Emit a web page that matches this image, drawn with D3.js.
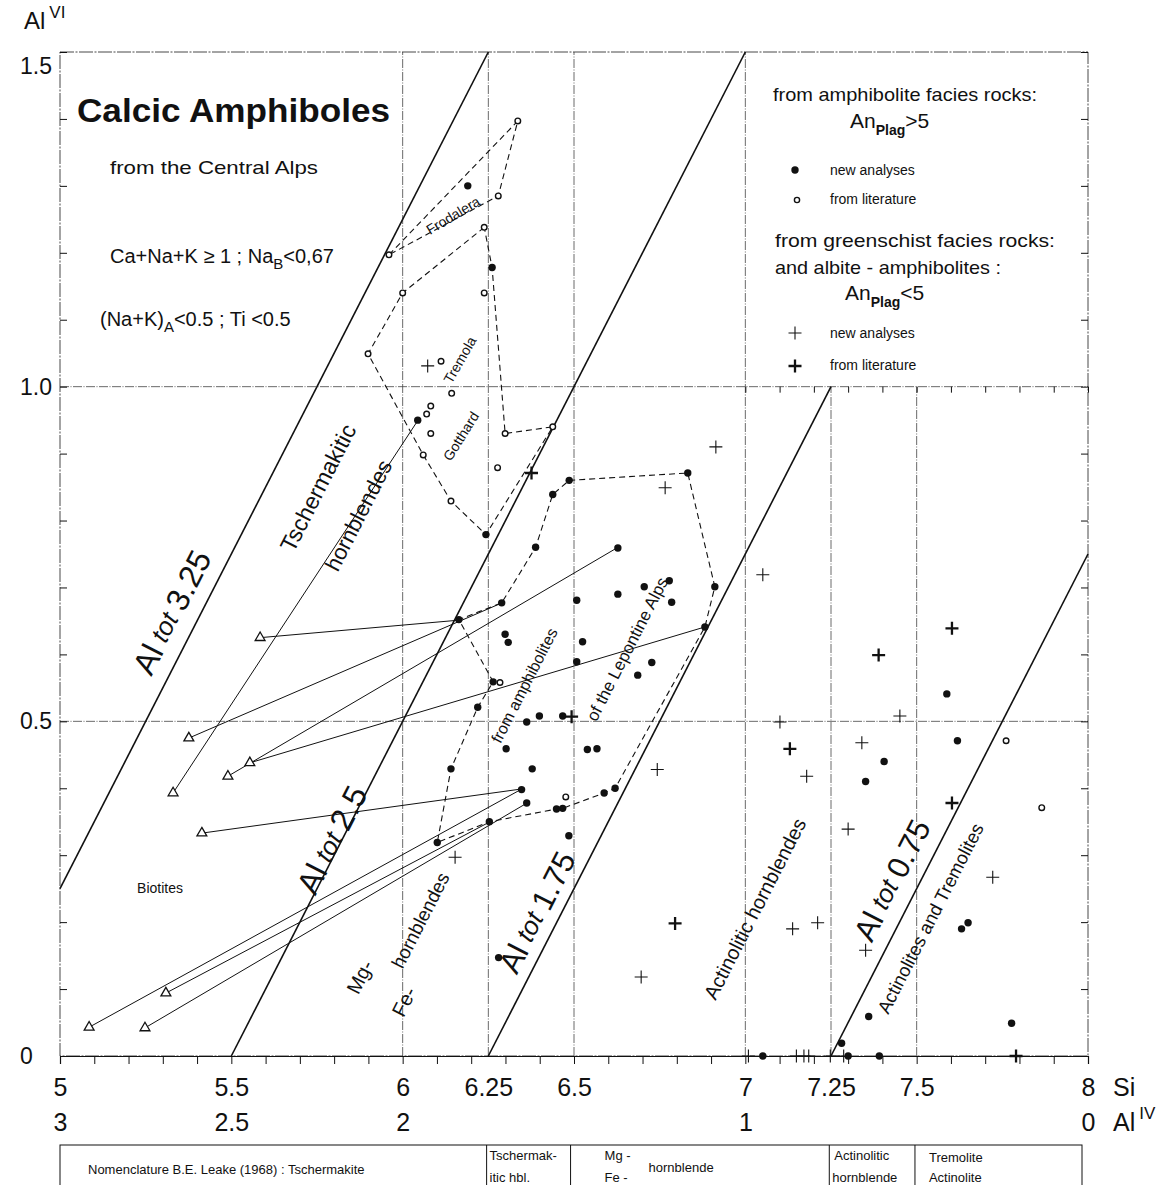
<!DOCTYPE html>
<html>
<head>
<meta charset="utf-8">
<script src="https://cdn.jsdelivr.net/npm/d3@7"></script>
<style>
  body { margin: 0; background: #fff; }
  svg { display: block; }
  text { font-family: "Liberation Sans", Arial, sans-serif; fill: #111; }
</style>
</head>
<body>
<svg id="chart" width="1176" height="1185"></svg>
<script>
// amphibolite facies, new analyses (filled dots) [Si, AlVI]
const newAmphibolite = [
  [6.190, 1.300], [6.261, 1.178], [6.044, 0.950], [6.243, 0.779], [6.486, 0.860],
  [6.832, 0.871], [6.911, 0.701], [6.882, 0.641], [6.620, 0.400], [6.588, 0.393],
  [6.467, 0.370], [6.449, 0.369], [6.253, 0.350], [6.101, 0.319], [6.141, 0.429],
  [6.219, 0.521], [6.264, 0.559], [6.164, 0.652], [6.289, 0.677], [6.388, 0.760],
  [6.438, 0.839], [6.628, 0.759], [6.508, 0.681], [6.628, 0.690], [6.705, 0.701],
  [6.778, 0.710], [6.785, 0.678], [6.299, 0.630], [6.308, 0.618], [6.525, 0.619],
  [6.508, 0.589], [6.727, 0.588], [6.686, 0.569], [6.362, 0.499], [6.399, 0.508],
  [6.467, 0.508], [6.302, 0.459], [6.539, 0.458], [6.567, 0.459], [6.378, 0.429],
  [6.347, 0.398], [6.362, 0.378], [6.485, 0.329], [6.280, 0.147], [7.051, 0.000],
  [7.588, 0.541], [7.619, 0.471], [7.405, 0.440], [7.351, 0.410], [7.631, 0.190],
  [7.650, 0.199], [7.360, 0.059], [7.777, 0.049], [7.281, 0.019], [7.300, 0.000],
  [7.391, 0.000]
]

// amphibolite facies, from literature (open circles)
const litAmphibolite = [
  [6.336, 1.397], [6.279, 1.285], [5.960, 1.197], [6.238, 1.238], [6.000, 1.140],
  [6.238, 1.140], [5.899, 1.049], [6.112, 1.038], [6.143, 0.990], [6.082, 0.971],
  [6.070, 0.959], [6.082, 0.930], [6.299, 0.930], [6.438, 0.940], [6.060, 0.898],
  [6.277, 0.879], [6.141, 0.829], [6.284, 0.558], [6.476, 0.387], [7.761, 0.471],
  [7.865, 0.371]
]

// greenschist facies / albite-amphibolites, new analyses (thin crosses)
const newGreenschist = [
  [6.073, 1.031], [6.766, 0.849], [6.914, 0.910], [6.743, 0.428], [6.153, 0.297],
  [6.696, 0.118], [7.051, 0.719], [7.451, 0.508], [7.101, 0.499], [7.340, 0.468],
  [7.179, 0.418], [7.300, 0.339], [7.722, 0.267], [7.138, 0.190], [7.211, 0.199],
  [7.351, 0.158], [7.009, 0.000], [7.149, 0.000], [7.171, 0.000], [7.185, 0.000],
  [7.248, 0.000], [7.287, 0.000]
]

// greenschist facies, from literature (bold crosses)
const litGreenschist = [
  [6.376, 0.871], [6.493, 0.507], [6.795, 0.198], [7.603, 0.639], [7.389, 0.599],
  [7.130, 0.459], [7.603, 0.378], [7.790, 0.000]
]

// coexisting biotites (triangles) and their amphibole partners
const biotites = [
  [5.584, 0.625], [5.376, 0.475], [5.490, 0.418], [5.554, 0.438], [5.330, 0.393],
  [5.414, 0.333], [5.085, 0.043], [5.309, 0.094], [5.248, 0.042]
]
const biotitePartners = [
  [6.161, 0.651], [6.290, 0.677], [6.625, 0.759], [6.882, 0.641], [6.045, 0.950],
  [6.348, 0.399], [6.348, 0.399], [6.255, 0.350], [6.363, 0.378]
]

// dashed outlines of the regional groups
const frodalera = [[5.960, 1.197], [6.336, 1.397], [6.279, 1.285], [5.960, 1.197]]
const gotthard = [
  [6.238, 1.238], [6.000, 1.140], [5.899, 1.049], [6.060, 0.898], [6.141, 0.829],
  [6.243, 0.779], [6.438, 0.940], [6.299, 0.930], [6.261, 1.178], [6.238, 1.238]
]
const lepontine = [
  [6.486, 0.860], [6.832, 0.871], [6.911, 0.701], [6.882, 0.641], [6.620, 0.400],
  [6.588, 0.393], [6.467, 0.370], [6.449, 0.369], [6.253, 0.350], [6.101, 0.319],
  [6.141, 0.429], [6.219, 0.521], [6.264, 0.559], [6.164, 0.652], [6.289, 0.677],
  [6.388, 0.760], [6.438, 0.839], [6.486, 0.860]
]

// lines of constant total Al (endpoints in Si, AlVI)
const alTotNames = ["3.25", "2.5", "1.75", "0.75"]
const alTotLines = [
  [[5.00, 0.25], [6.25, 1.50]],
  [[5.50, 0.00], [7.00, 1.50]],
  [[6.25, 0.00], [7.25, 1.00]],
  [[7.25, 0.00], [8.00, 0.75]]
]

// grid
const gridSiFull = [6, 6.25, 6.5, 7]
const gridSiLow = [7.25, 7.5]
const gridAl = [0.5, 1.0]

// tick labels
const siTicks = [5, 5.5, 6, 6.25, 6.5, 7, 7.25, 7.5, 8]
const siTickLabels = ["5", "5.5", "6", "6.25", "6.5", "7", "7.25", "7.5", "8"]
const alIVTicks = [5, 5.5, 6, 7, 8]
const alIVTickLabels = ["3", "2.5", "2", "1", "0"]
const alVITicks = [0, 0.5, 1.0, 1.5]
const alVITickLabels = ["0", "0.5", "1.0", "1.5"]

// nomenclature strip (Leake 1968) boundaries
const leakeBounds = [6.245, 6.49, 7.245, 7.495]

const svg = d3.select("#chart")
const x = d3.scaleLinear().domain([5, 8]).range([60, 1088])
const y = d3.scaleLinear().domain([0, 1.5]).range([1056, 52])
const ink = "#111"
const slope = Math.atan2(y(0) - y(1), x(1) - x(0)) * 180 / Math.PI
const line = d3.line().x(d => x(d[0])).y(d => y(d[1]))

svg.append("rect").attr("width", 1176).attr("height", 1185).attr("fill", "#fff")

// grid lines
const grid = svg.append("g")
  .attr("stroke", "#444").attr("stroke-width", 0.8).attr("stroke-dasharray", "9,1.5,1,1.5")
grid.selectAll(".vf").data(gridSiFull).join("line")
  .attr("x1", d => x(d)).attr("x2", d => x(d)).attr("y1", y(0)).attr("y2", y(1.5))
grid.selectAll(".vl").data(gridSiLow).join("line")
  .attr("x1", d => x(d)).attr("x2", d => x(d)).attr("y1", y(0)).attr("y2", y(1.0))
grid.selectAll(".h").data(gridAl).join("line")
  .attr("x1", x(5)).attr("x2", x(8)).attr("y1", d => y(d)).attr("y2", d => y(d))

// frame
svg.append("rect")
  .attr("x", x(5)).attr("y", y(1.5)).attr("width", x(8) - x(5)).attr("height", y(0) - y(1.5))
  .attr("fill", "none").attr("stroke", "#333").attr("stroke-width", 0.9)
  .attr("stroke-dasharray", "14,1.5,2,1.5")

// axes: ticks
svg.append("g").attr("transform", `translate(0,${y(0)})`)
  .call(d3.axisBottom(x).ticks(30).tickFormat("").tickSize(8))
  .call(g => g.select(".domain").attr("stroke", ink).attr("stroke-width", 1.2))
  .call(g => g.selectAll(".tick line").attr("stroke", ink))
svg.append("g").attr("transform", `translate(${x(5)},0)`)
  .call(d3.axisRight(y).ticks(15).tickFormat("").tickSize(7))
  .call(g => g.select(".domain").remove())
  .call(g => g.selectAll(".tick line").attr("stroke", ink))
svg.append("g").attr("transform", `translate(${x(8)},0)`)
  .call(d3.axisLeft(y).ticks(15).tickFormat("").tickSize(7))
  .call(g => g.select(".domain").remove())
  .call(g => g.selectAll(".tick line").attr("stroke", ink))
svg.append("g").attr("transform", `translate(0,${y(1.0)})`)
  .call(d3.axisBottom(x.copy().domain([7, 8]).range([x(7), x(8)])).ticks(10).tickFormat("").tickSize(6))
  .call(g => g.select(".domain").remove())
  .call(g => g.selectAll(".tick line").attr("stroke", ink))

// axes: labels
svg.append("g").attr("transform", `translate(0,${y(0)})`)
  .call(d3.axisBottom(x).tickValues(siTicks).tickFormat((d, i) => siTickLabels[i]).tickSize(0).tickPadding(22))
  .call(g => g.select(".domain").remove())
  .call(g => g.selectAll("text").attr("font-size", 25).attr("fill", ink)
    .attr("font-family", "'Liberation Sans', Arial, sans-serif"))
svg.append("g").attr("transform", `translate(0,${y(0)})`)
  .call(d3.axisBottom(x).tickValues(alIVTicks).tickFormat((d, i) => alIVTickLabels[i]).tickSize(0).tickPadding(57))
  .call(g => g.select(".domain").remove())
  .call(g => g.selectAll("text").attr("font-size", 25).attr("fill", ink)
    .attr("font-family", "'Liberation Sans', Arial, sans-serif"))
svg.append("g").attr("transform", `translate(${x(5)},0)`)
  .call(d3.axisLeft(y).tickValues(alVITicks).tickFormat((d, i) => alVITickLabels[i]).tickSize(0).tickPadding(10))
  .call(g => g.select(".domain").remove())
  .call(g => g.selectAll("text").attr("font-size", 23).attr("fill", ink)
    .attr("text-anchor", "start").attr("x", -40)
    .attr("dy", d => d === 1.5 ? "0.95em" : "0.32em")
    .attr("font-family", "'Liberation Sans', Arial, sans-serif"))

svg.append("text").attr("x", 1113).attr("y", 1096).attr("font-size", 25).text("Si")
const alIV = svg.append("text").attr("x", 1113).attr("y", 1131).attr("font-size", 25)
alIV.append("tspan").text("Al")
alIV.append("tspan").attr("dx", 4).attr("dy", -12).attr("font-size", 17).text("IV")
const alVI = svg.append("text").attr("x", 24).attr("y", 29).attr("font-size", 24)
alVI.append("tspan").text("Al")
alVI.append("tspan").attr("dx", 4).attr("dy", -11).attr("font-size", 17).text("VI")

// total-Al lines
svg.append("g").selectAll("path").data(alTotLines).join("path")
  .attr("d", line).attr("fill", "none").attr("stroke", ink).attr("stroke-width", 1.6)

// group outlines
svg.append("g").selectAll("path").data([frodalera, gotthard, lepontine]).join("path")
  .attr("d", line).attr("fill", "none").attr("stroke", ink)
  .attr("stroke-width", 1.1).attr("stroke-dasharray", "6,4")

// biotite - amphibole tie lines
svg.append("g").selectAll("line").data(biotites).join("line")
  .attr("x1", d => x(d[0])).attr("y1", d => y(d[1]))
  .attr("x2", (d, i) => x(biotitePartners[i][0])).attr("y2", (d, i) => y(biotitePartners[i][1]))
  .attr("stroke", ink).attr("stroke-width", 1)

// marks
svg.append("g").selectAll("path").data(biotites).join("path")
  .attr("transform", d => `translate(${x(d[0])},${y(d[1])})`)
  .attr("d", d3.symbol(d3.symbolTriangle).size(42))
  .attr("fill", "#fff").attr("stroke", ink).attr("stroke-width", 1.3)

svg.append("g").selectAll("circle").data(newAmphibolite).join("circle")
  .attr("cx", d => x(d[0])).attr("cy", d => y(d[1])).attr("r", 3.7).attr("fill", ink)

svg.append("g").selectAll("circle").data(litAmphibolite).join("circle")
  .attr("cx", d => x(d[0])).attr("cy", d => y(d[1])).attr("r", 2.8)
  .attr("fill", "#fff").attr("stroke", ink).attr("stroke-width", 1.4)

const cross = s => `M${-s},0H${s}M0,${-s}V${s}`
svg.append("g").selectAll("path").data(newGreenschist).join("path")
  .attr("transform", d => `translate(${x(d[0])},${y(d[1])})`)
  .attr("d", cross(6.5)).attr("stroke", ink).attr("stroke-width", 1.1)
svg.append("g").selectAll("path").data(litGreenschist).join("path")
  .attr("transform", d => `translate(${x(d[0])},${y(d[1])})`)
  .attr("d", cross(6.5)).attr("stroke", ink).attr("stroke-width", 2.3)

// rotated annotations
function note(parts, si, al, rot, size) {
  const t = svg.append("text")
    .attr("transform", `translate(${x(si)},${y(al)}) rotate(${rot})`)
    .attr("text-anchor", "middle").attr("dominant-baseline", "central")
    .attr("font-size", size)
  parts.forEach(p => {
    const s = t.append("tspan").text(p[0])
    if (p[1]) s.attr("font-size", p[1])
    if (p[2]) s.attr("font-style", p[2])
  })
  return t
}
const alTotNote = v => [["Al"], [" tot ", 26, "italic"], [v]]
note(alTotNote(alTotNames[0]), 5.327, 0.663, -slope, 32)
note(alTotNote(alTotNames[1]), 5.794, 0.323, -slope, 32)
note(alTotNote(alTotNames[2]), 6.392, 0.215, -slope, 31)
note(alTotNote(alTotNames[3]), 7.428, 0.263, -slope, 31)
note([["Tschermakitic"]], 5.753, 0.849, -slope, 23)
note([["hornblendes"]], 5.870, 0.808, -slope, 22)
note([["Mg-"]], 5.875, 0.118, -slope, 20)
note([["hornblendes"]], 6.051, 0.203, -slope, 19)
note([["Fe-"]], 6.004, 0.081, -slope, 20)
note([["from amphibolites"]], 6.354, 0.554, -slope, 16)
note([["of the Lepontine Alps"]], 6.655, 0.608, -slope, 17)
note([["Actinolitic  hornblendes"]], 7.028, 0.220, -slope, 20)
note([["Actinolites  and  Tremolites"]], 7.539, 0.206, -slope, 18.5)
note([["Frodalera"]], 6.147, 1.256, -31, 14)
note([["Tremola"]], 6.167, 1.040, -60, 14)
note([["Gotthard"]], 6.170, 0.926, -58, 14)
note([["Biotites"]], 5.292, 0.251, 0, 14)

// title block
svg.append("text").attr("x", 77).attr("y", 122).attr("font-size", 34).attr("font-weight", "bold")
  .attr("textLength", 313).attr("lengthAdjust", "spacingAndGlyphs").text("Calcic Amphiboles")
svg.append("text").attr("x", 110).attr("y", 174).attr("font-size", 19)
  .attr("textLength", 208).attr("lengthAdjust", "spacingAndGlyphs").text("from the Central Alps")
const c1 = svg.append("text").attr("x", 110).attr("y", 263).attr("font-size", 20)
c1.append("tspan").text("Ca+Na+K \u2265 1  ;  Na")
c1.append("tspan").attr("dy", 6).attr("font-size", 15).text("B")
c1.append("tspan").attr("dy", -6).text("<0,67")
const c2 = svg.append("text").attr("x", 100).attr("y", 326).attr("font-size", 20)
c2.append("tspan").text("(Na+K)")
c2.append("tspan").attr("dy", 6).attr("font-size", 15).text("A")
c2.append("tspan").attr("dy", -6).text("<0.5  ;  Ti <0.5")

// legend
const lg = svg.append("g")
lg.append("text").attr("x", 773).attr("y", 101).attr("font-size", 19)
  .attr("textLength", 264).attr("lengthAdjust", "spacingAndGlyphs").text("from amphibolite facies rocks:")
function anPlag(xp, yp, rel) {
  const t = lg.append("text").attr("x", xp).attr("y", yp).attr("font-size", 21)
  t.append("tspan").text("An")
  t.append("tspan").attr("dy", 7).attr("font-size", 14).attr("font-weight", "bold").text("Plag")
  t.append("tspan").attr("dy", -7).text(rel)
}
anPlag(850, 128, ">5")
lg.append("circle").attr("cx", 795).attr("cy", 170).attr("r", 3.7).attr("fill", ink)
lg.append("text").attr("x", 830).attr("y", 175).attr("font-size", 14).text("new  analyses")
lg.append("circle").attr("cx", 797).attr("cy", 200).attr("r", 2.6)
  .attr("fill", "#fff").attr("stroke", ink).attr("stroke-width", 1.4)
lg.append("text").attr("x", 830).attr("y", 204).attr("font-size", 14).text("from  literature")
lg.append("text").attr("x", 775).attr("y", 247).attr("font-size", 19)
  .attr("textLength", 280).attr("lengthAdjust", "spacingAndGlyphs").text("from greenschist facies rocks:")
lg.append("text").attr("x", 775).attr("y", 274).attr("font-size", 19)
  .attr("textLength", 226).attr("lengthAdjust", "spacingAndGlyphs").text("and albite - amphibolites :")
anPlag(845, 300, "<5")
lg.append("path").attr("transform", "translate(795,333)").attr("d", cross(6.5))
  .attr("stroke", ink).attr("stroke-width", 1.1)
lg.append("text").attr("x", 830).attr("y", 338).attr("font-size", 14).text("new  analyses")
lg.append("path").attr("transform", "translate(795,366)").attr("d", cross(6.5))
  .attr("stroke", ink).attr("stroke-width", 2.3)
lg.append("text").attr("x", 830).attr("y", 370).attr("font-size", 14).text("from  literature")

// nomenclature strip
const tb = svg.append("g")
tb.append("rect").attr("x", x(5)).attr("y", 1145).attr("width", 1082 - x(5)).attr("height", 80)
  .attr("fill", "none").attr("stroke", ink).attr("stroke-width", 1)
tb.selectAll("line").data(leakeBounds).join("line")
  .attr("x1", d => x(d)).attr("x2", d => x(d)).attr("y1", 1145).attr("y2", 1190)
  .attr("stroke", ink).attr("stroke-width", 1)
const cell = (xp, yp, s, size) => tb.append("text").attr("x", xp).attr("y", yp)
  .attr("font-size", size || 13).text(s)
cell(88, 1174, "Nomenclature  B.E. Leake (1968) :   Tschermakite")
cell(x(6.245) + 3, 1160, "Tschermak-")
cell(x(6.245) + 3, 1182, "itic  hbl.")
cell(x(6.49) + 34, 1160, "Mg -")
cell(x(6.49) + 34, 1182, "Fe -")
cell(x(6.49) + 78, 1172, "hornblende")
cell(x(7.245) + 5, 1160, "Actinolitic")
cell(x(7.245) + 3, 1182, "hornblende")
cell(x(7.495) + 14, 1162, "Tremolite")
cell(x(7.495) + 14, 1182, "Actinolite")
</script>
</body>
</html>
